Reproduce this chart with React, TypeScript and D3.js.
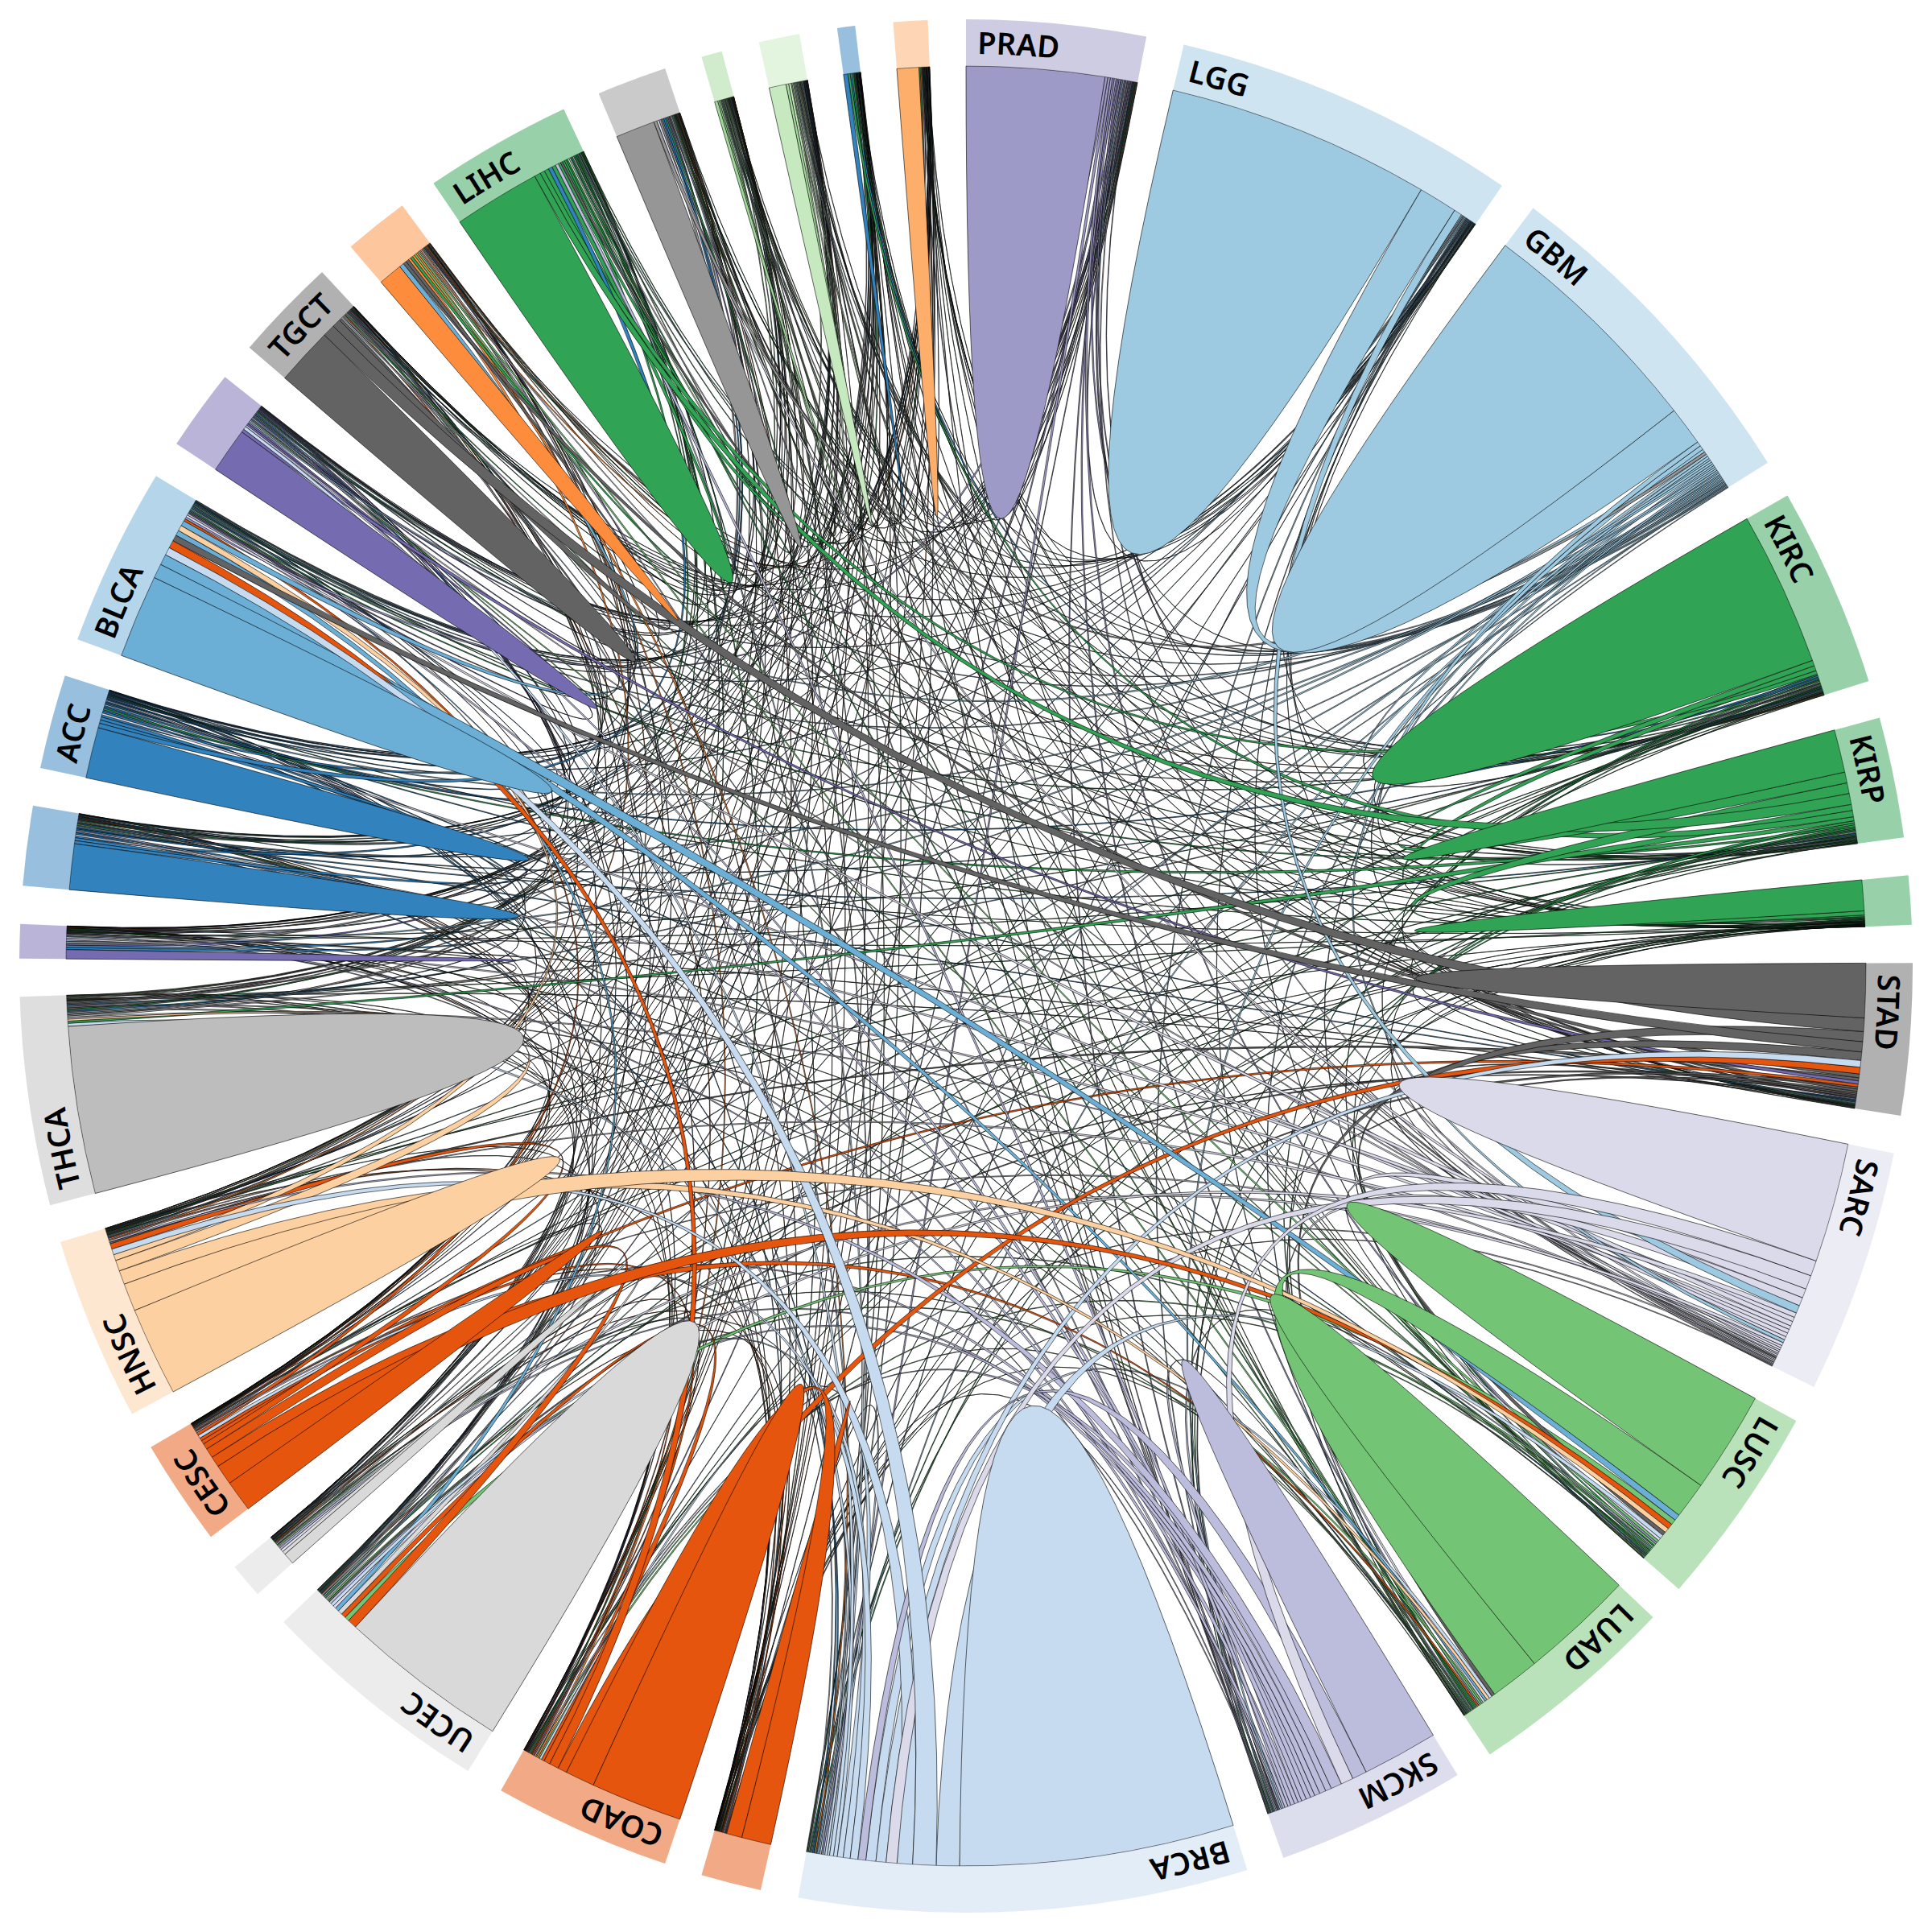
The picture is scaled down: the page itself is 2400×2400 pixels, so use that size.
import React from "react";
import * as d3 from "d3";

// Group labels, clockwise from 12 o'clock (blank = the sector carries no printed label)
const groupLabels = ["PRAD","LGG","GBM","KIRC","KIRP","","STAD","SARC","LUSC","LUAD","SKCM","BRCA","","COAD","UCEC","","CESC","HNSC","THCA","","","ACC","BLCA","","TGCT","","LIHC","","","","",""];
const groupColors = ["#9e9ac8","#9ecae1","#9ecae1","#31a354","#31a354","#31a354","#636363","#dadaeb","#74c476","#74c476","#bcbddc","#c6dbef","#e6550d","#e6550d","#d9d9d9","#d9d9d9","#e6550d","#fdd0a2","#bdbdbd","#756bb1","#3182bd","#3182bd","#6baed6","#756bb1","#636363","#fd8d3c","#31a354","#969696","#a1d99b","#c7e9c0","#3182bd","#fdae6b"];

// Ribbon widths at each row's end (1/100 degree)
const rowPRAD = [890,6,7,12,8,4,9,6,14,12,9,16,5,10,7,3,6,8,5,4,5,4,18,5,4,3,4,3,2,3,2,6];
const rowLGG = [3,1710,250,4,3,2,4,52,4,5,9,6,2,3,4,2,3,4,3,6,4,3,4,6,3,3,2,7,2,3,2,3];
const rowGBM = [8,250,1510,16,10,6,14,30,11,13,28,16,4,9,12,6,8,10,8,14,14,12,12,20,9,7,6,18,7,9,6,7];
const rowKIRC = [5,3,4,996,36,34,5,6,8,9,6,7,3,5,5,2,3,6,6,5,5,9,7,4,3,3,24,3,2,3,8,5];
const rowKIRP = [4,3,4,70,276,70,5,6,12,14,8,9,3,5,7,3,4,8,40,6,6,26,12,6,4,5,70,4,3,3,40,4];
const rowG06 = [2,1,2,10,27,198,2,3,3,4,2,3,1,2,3,1,1,2,4,2,2,5,3,2,1,1,3,1,1,1,6,1];
const rowSTAD = [6,3,5,4,5,2,350,8,55,65,10,43,15,43,12,6,18,20,4,5,6,6,65,20,87,25,14,7,4,4,3,10];
const rowSARC = [12,50,20,8,10,4,8,772,60,55,100,90,5,8,30,20,16,25,12,25,30,25,30,14,10,8,8,22,6,6,5,6];
const rowLUSC = [12,4,6,6,8,3,25,18,654,235,8,25,6,12,35,8,35,30,4,4,6,5,40,8,6,16,6,6,4,4,2,4];
const rowLUAD = [10,4,5,6,7,3,22,14,320,736,6,20,4,8,12,5,10,18,4,3,5,4,16,6,6,12,8,8,4,4,2,3];
const rowSKCM = [8,6,10,5,6,2,8,80,20,25,488,95,6,40,40,30,35,70,6,20,25,15,30,30,8,10,25,8,4,5,4,6];
const rowBRCA = [10,6,8,6,7,3,65,70,150,65,50,1770,15,38,45,10,50,100,25,6,8,7,150,25,12,8,15,10,4,4,3,7];
const rowG13 = [3,1,2,2,2,1,6,3,3,2,3,5,100,190,5,2,6,5,1,1,2,1,6,2,3,3,3,2,1,1,1,2];
const rowCOAD = [6,2,4,4,4,2,60,5,10,8,8,14,190,593,40,6,20,8,2,2,4,3,60,4,6,10,6,3,1,2,1,2];
const rowUCEC = [6,4,6,5,6,3,12,20,30,10,16,20,4,30,1100,30,60,8,3,3,5,4,25,4,5,6,3,3,2,2,2,3];
const rowG16 = [3,3,5,2,3,1,6,18,7,5,12,8,2,5,22,74,8,3,1,2,3,3,6,2,2,2,1,2,1,1,1,1];
const rowCESC = [5,2,4,3,3,1,20,5,130,70,8,20,6,24,62,3,202,38,2,2,3,2,20,3,3,5,2,2,1,1,1,2];
const rowHNSC = [5,3,4,4,4,2,12,6,180,90,10,37,3,6,5,2,35,574,70,2,3,3,40,4,4,8,4,3,1,2,1,3];
const rowTHCA = [6,4,7,8,14,4,4,10,6,7,6,20,2,4,4,1,3,12,1080,6,6,7,8,10,4,6,7,6,3,4,4,6];
const rowG20 = [3,6,10,3,3,1,4,10,3,3,10,6,1,2,4,2,2,3,6,59,14,14,3,12,3,2,3,12,1,2,1,2];
const rowG21 = [5,4,6,6,7,2,7,10,6,5,8,9,2,4,5,3,3,4,9,18,295,20,6,8,4,3,5,12,3,3,3,5];
const rowACC = [5,6,8,10,9,4,7,12,7,6,7,9,2,4,6,4,3,4,12,20,22,328,8,9,5,4,30,14,3,4,3,5];
const rowBLCA = [14,5,6,6,7,3,40,14,93,70,12,50,7,50,35,6,15,35,5,3,4,6,539,8,8,35,5,5,3,3,3,5];
const rowG24 = [5,5,8,4,5,2,22,8,8,6,12,20,3,6,5,2,4,5,7,10,7,6,12,292,7,5,5,8,2,3,2,4];
const rowTGCT = [4,3,5,3,4,1,80,6,6,5,6,8,3,6,5,1,3,4,5,2,3,4,16,5,373,55,6,4,2,3,1,3];
const rowG26 = [4,3,5,4,5,2,22,7,10,12,8,15,3,12,6,2,6,16,4,3,3,3,30,5,20,155,16,4,2,3,2,8];
const rowLIHC = [5,3,5,30,40,4,14,7,8,10,20,9,4,8,5,2,4,6,14,4,6,25,7,5,7,25,560,12,5,10,16,30];
const rowG28 = [3,10,20,3,3,1,6,14,4,5,6,6,2,3,3,2,2,3,7,14,10,10,4,8,4,3,9,253,2,5,2,3];
const rowG29 = [2,3,5,3,4,2,3,5,4,5,3,4,1,2,2,1,1,2,5,2,4,3,3,3,2,2,9,4,10,20,5,3];
const rowG30 = [4,3,5,4,4,2,4,5,5,7,4,5,1,2,2,1,2,3,6,2,3,3,4,3,3,4,15,7,18,109,4,6];
const rowG31 = [1,1,2,12,14,5,1,2,2,2,1,2,1,1,1,1,1,1,4,1,2,2,2,1,1,1,9,2,3,2,28,1];
const rowG32 = [5,1,2,3,3,1,3,2,2,2,2,2,2,2,1,1,1,2,3,1,2,2,2,2,1,6,8,1,1,2,1,141];

const matrix = [rowPRAD,rowLGG,rowGBM,rowKIRC,rowKIRP,rowG06,rowSTAD,rowSARC,rowLUSC,rowLUAD,rowSKCM,rowBRCA,rowG13,rowCOAD,rowUCEC,rowG16,rowCESC,rowHNSC,rowTHCA,rowG20,rowG21,rowACC,rowBLCA,rowG24,rowTGCT,rowG26,rowLIHC,rowG28,rowG29,rowG30,rowG31,rowG32];

const SIZE = 2400;
const innerR = 1118;
const outerR = 1176;
const labelR = 1133;

export default function App() {
  const layout = d3.chord().padAngle(0.0404).sortSubgroups(d3.descending).sortChords(d3.ascending)(matrix);
  const ribbon = d3.ribbon().radius(innerR);
  const arc = d3.arc().innerRadius(innerR).outerRadius(outerR);
  const color = d3.scaleOrdinal(d3.range(groupColors.length), groupColors);
  const chords = Array.from(layout);
  const labelPath = (g: any) => {
    const p = d3.path();
    p.arc(0, 0, labelR, g.startAngle - Math.PI / 2, g.startAngle - Math.PI / 2 + 0.5);
    return p.toString();
  };
  return (
    <svg
      width={SIZE}
      height={SIZE}
      viewBox={`0 0 ${SIZE} ${SIZE}`}
      style={{ position: "absolute", left: 0, top: 0, background: "#fff" }}
    >
      <g transform={`translate(${SIZE / 2},${SIZE / 2})`}>
        {chords.map((c: any, i: number) => {
          const owner = c.source.value >= c.target.value ? c.source.index : c.target.index;
          return (
            <path
              key={i}
              d={ribbon(c) as any}
              fill={color(owner)}
              stroke="#000"
              strokeWidth={1}
              strokeOpacity={0.6}
            />
          );
        })}
        {layout.groups.map((g: any) => (
          <path key={g.index} d={arc(g) as any} fill={color(g.index)} fillOpacity={0.5} />
        ))}
        {layout.groups.map((g: any) =>
          groupLabels[g.index] ? (
            <g key={g.index}>
              <path id={`lab${g.index}`} d={labelPath(g)} fill="none" />
              <text fontFamily="'Noto Sans', sans-serif" fontWeight={600} fontSize={38} fill="#000">
                <textPath href={`#lab${g.index}`} startOffset={14}>
                  {groupLabels[g.index]}
                </textPath>
              </text>
            </g>
          ) : null
        )}
      </g>
    </svg>
  );
}
